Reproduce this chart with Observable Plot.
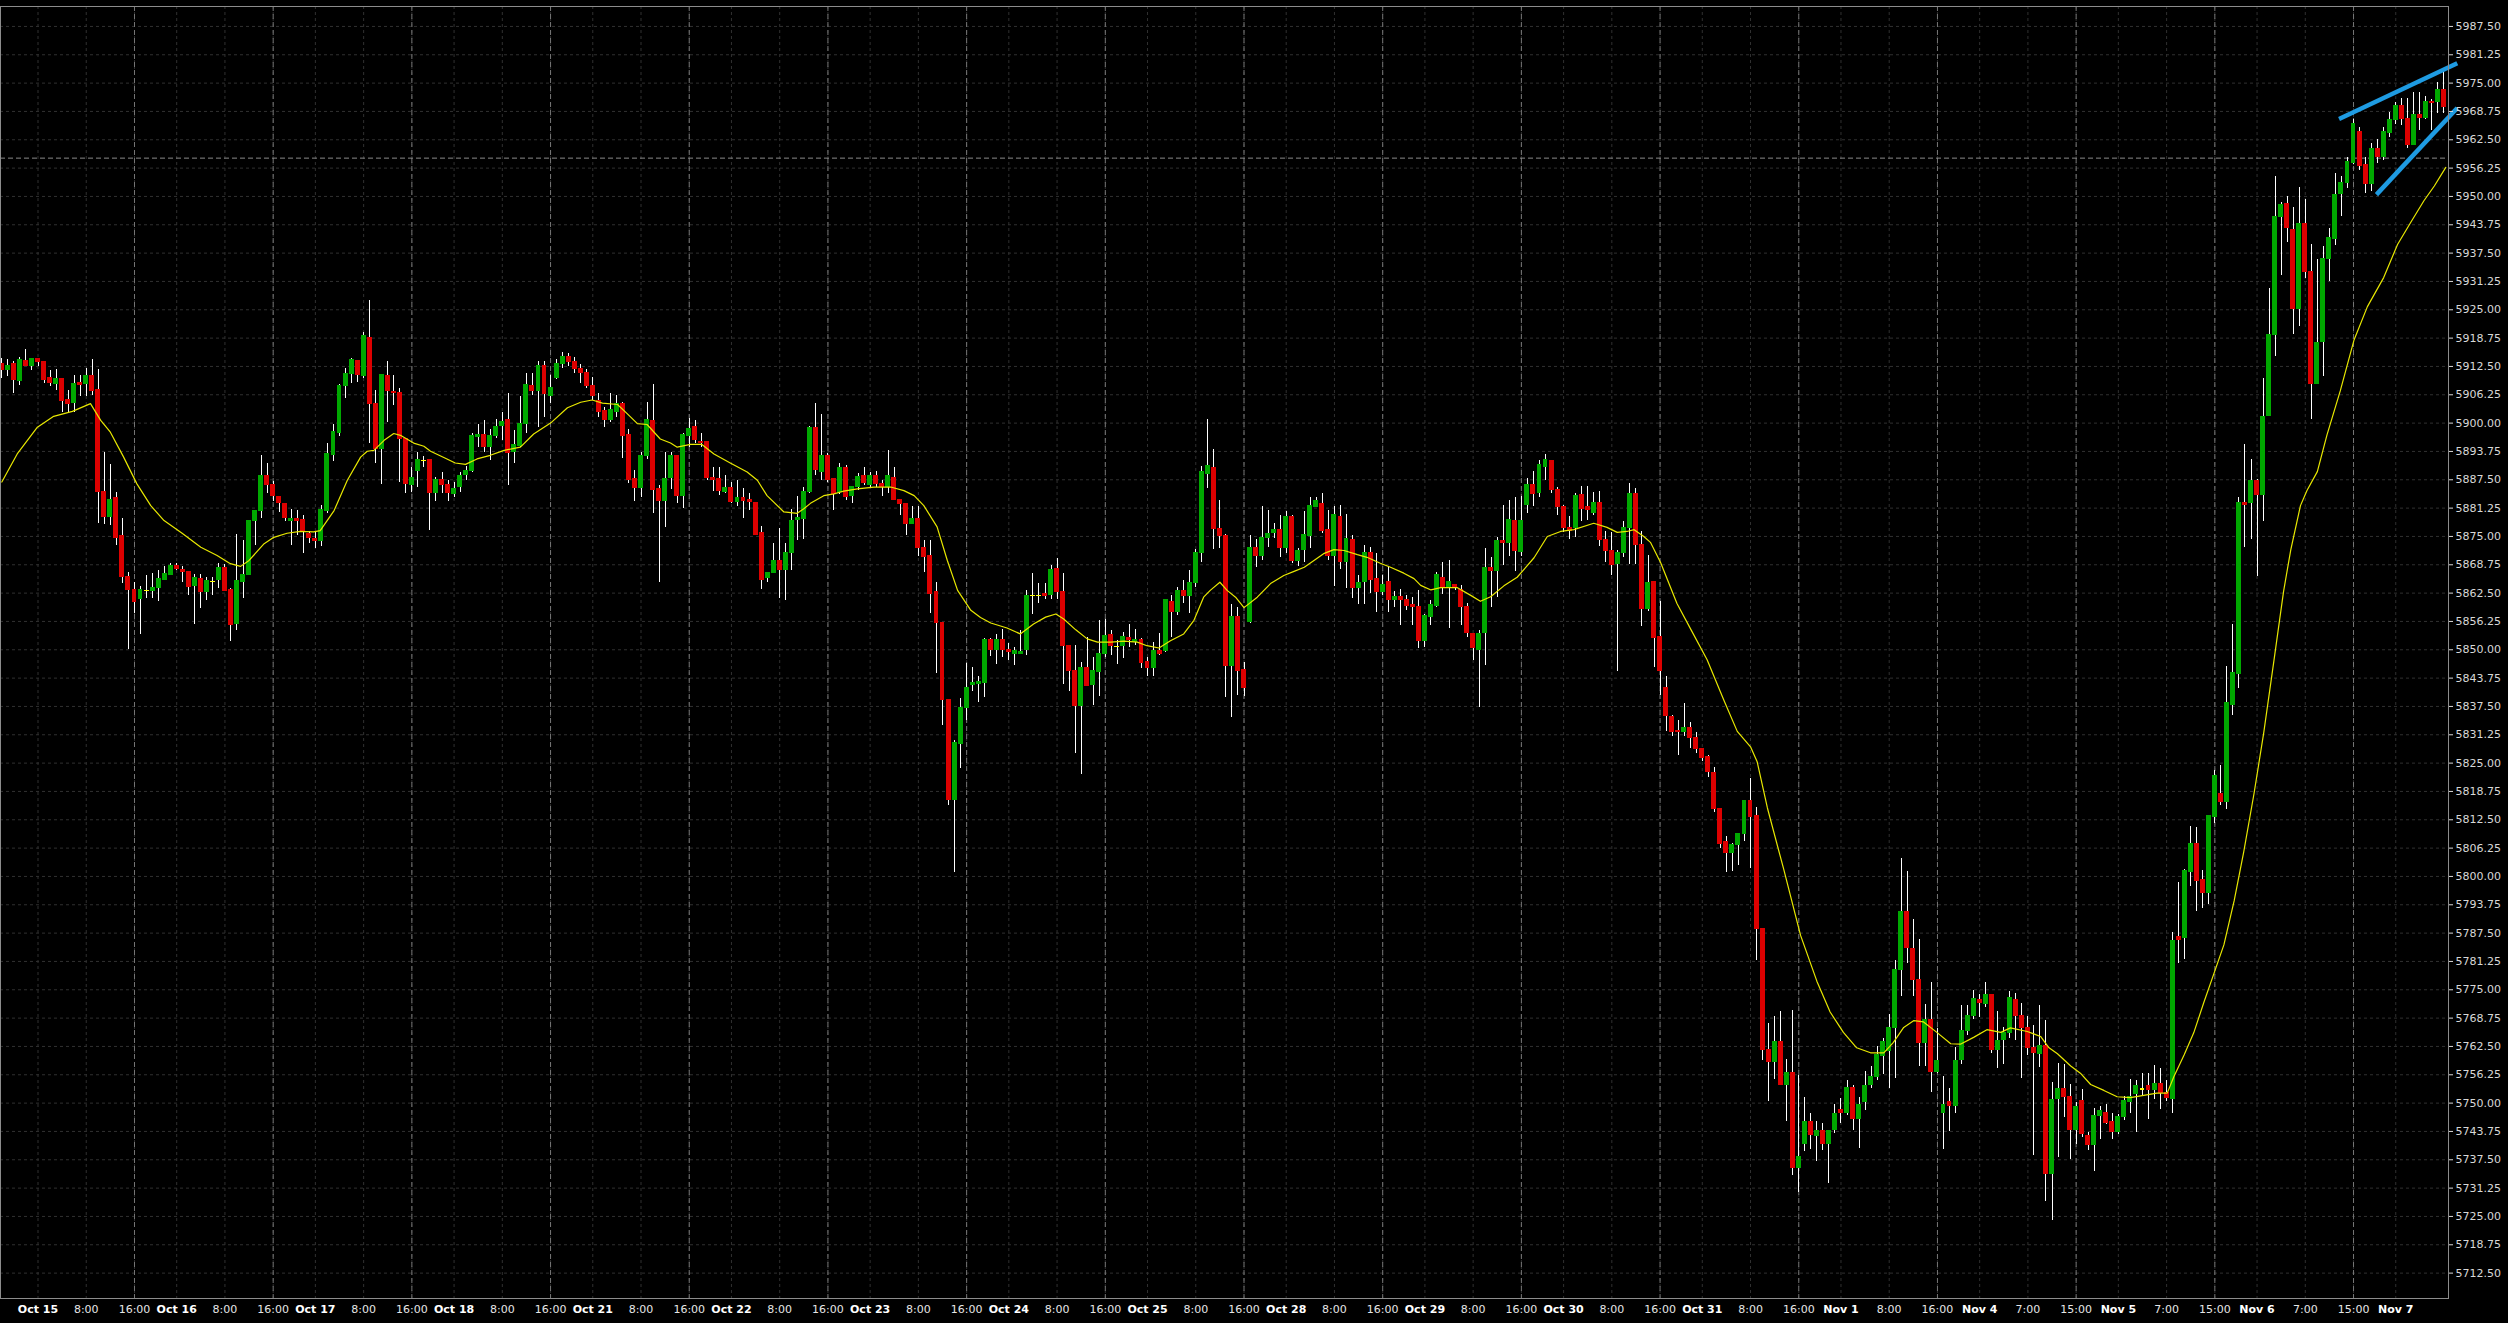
<!DOCTYPE html>
<html><head><meta charset="utf-8">
<script src="https://cdn.jsdelivr.net/npm/d3@7"></script>
<script src="https://cdn.jsdelivr.net/npm/@observablehq/plot@0.6"></script>
<style>html,body{margin:0;padding:0;background:#000;overflow:hidden}</style>
</head><body><div id="chart"></div>
<script>
// ---- hourly OHLC values (bar index order) ----
const opens = [5912.9,5911.8,5912.9,5909.3,5913.6,5912.6,5914.0,5913.5,5909.9,5908.6,
5909.6,5905.0,5904.4,5908.7,5908.6,5910.3,5907.2,5884.7,5879.3,5883.4,
5875.0,5866.0,5863.1,5861.2,5863.0,5863.1,5863.6,5865.5,5866.6,5868.4,
5867.6,5867.1,5864.2,5865.5,5862.7,5864.9,5865.5,5867.9,5863.1,5855.7,
5865.1,5866.5,5878.4,5880.7,5888.2,5886.3,5883.6,5882.1,5878.4,5878.7,
5878.6,5875.4,5874.3,5874.0,5880.7,5893.0,5897.9,5908.3,5910.9,5913.6,
5910.5,5918.8,5904.1,5894.3,5910.3,5906.8,5906.7,5896.5,5886.5,5889.4,
5891.6,5891.8,5884.6,5887.5,5886.4,5884.4,5885.9,5888.5,5889.4,5896.9,
5897.3,5894.7,5897.1,5899.3,5900.6,5893.6,5895.1,5899.8,5908.2,5907.1,
5912.5,5906.1,5910.0,5913.0,5914.5,5913.5,5912.0,5911.0,5908.1,5904.9,
5902.6,5900.8,5902.6,5904.1,5897.3,5887.6,5885.7,5892.9,5900.4,5885.4,
5882.8,5887.9,5892.6,5883.9,5897.3,5899.0,5895.9,5895.8,5887.9,5887.6,
5884.8,5885.7,5882.6,5883.4,5883.0,5882.3,5875.8,5865.8,5866.9,5869.5,
5867.7,5871.5,5878.7,5878.8,5884.8,5898.9,5889.3,5892.6,5887.7,5884.8,
5890.1,5884.0,5886.0,5888.2,5886.5,5888.2,5886.6,5886.0,5887.9,5882.9,
5882.1,5877.8,5878.9,5872.3,5870.6,5862.6,5855.9,5838.8,5816.9,5829.3,
5837.2,5842.2,5842.4,5842.8,5852.1,5850.0,5852.1,5849.8,5849.2,5849.2,
5850.0,5861.8,5861.8,5862.2,5862.1,5867.7,5862.7,5850.7,5845.2,5837.6,
5845.9,5842.3,5845.2,5849.1,5853.3,5850.6,5850.8,5852.6,5851.7,5852.2,
5847.3,5846.0,5849.6,5849.7,5860.4,5858.3,5862.9,5861.8,5864.7,5871.5,
5888.9,5890.1,5876.5,5875.1,5846.5,5857.1,5845.4,5856.1,5872.3,5870.7,
5874.6,5875.9,5876.3,5872.4,5879.3,5869.6,5872.1,5875.2,5881.6,5882.2,
5876.3,5870.7,5879.3,5869.5,5874.1,5863.6,5864.9,5871.2,5865.5,5862.9,
5864.8,5861.0,5861.5,5860.9,5859.8,5859.3,5851.9,5857.3,5859.8,5865.8,
5864.0,5864.2,5863.2,5859.4,5853.5,5850.1,5853.7,5868.0,5867.5,5873.9,
5873.7,5878.3,5871.6,5881.9,5886.3,5884.6,5890.3,5891.7,5885.3,5881.5,
5876.8,5876.8,5884.0,5881.5,5880.2,5882.3,5874.2,5871.8,5868.9,5871.4,
5876.8,5884.4,5873.1,5859.0,5864.9,5852.8,5841.6,5835.2,5832.1,5831.8,
5832.8,5830.6,5828.1,5826.2,5822.8,5814.9,5807.5,5805.2,5806.9,5809.3,
5816.5,5813.4,5788.4,5761.7,5759.2,5763.4,5754.1,5756.6,5735.8,5741.1,
5745.9,5742.9,5743.7,5741.1,5744.2,5748.4,5747.8,5753.2,5746.5,5750.2,
5754.0,5755.7,5760.5,5761.6,5766.7,5779.4,5792.1,5783.9,5777.2,5763.4,
5768.4,5756.8,5747.9,5750.1,5749.5,5759.6,5765.9,5769.2,5772.7,5772.0,
5773.8,5761.7,5763.9,5765.5,5772.8,5769.2,5766.6,5762.2,5760.9,5762.6,
5734.4,5750.9,5753.0,5751.3,5744.1,5750.4,5742.8,5740.9,5747.2,5747.7,
5745.7,5743.6,5746.9,5750.4,5752.0,5753.0,5753.7,5753.0,5754.1,5752.2,
5750.9,5786.5,5786.5,5801.1,5807.2,5799.1,5796.5,5813.2,5818.1,5816.4,
5837.8,5844.8,5882.4,5882.4,5887.1,5884.1,5901.7,5919.5,5945.5,5948.3,
5942.6,5925.2,5943.8,5933.3,5908.7,5917.9,5936.2,5940.7,5950.5,5953.0,
5957.5,5964.1,5957.0,5952.9,5960.5,5958.7,5964.1,5966.8,5969.8,5967.1,
5961.5,5967.9,5967.3,5970.9,5970.8,5973.4];
const highs = [5914.2,5914.0,5913.5,5914.4,5916.2,5914.3,5914.2,5913.5,5911.5,5911.8,
5909.6,5907.1,5910.4,5910.4,5912.0,5914.0,5911.8,5893.6,5890.9,5884.7,
5878.9,5867.1,5864.9,5864.0,5866.4,5866.8,5867.5,5868.4,5869.0,5869.1,
5868.4,5867.1,5866.5,5866.6,5866.0,5865.9,5869.0,5868.8,5863.5,5875.4,
5874.0,5878.4,5880.7,5892.9,5891.0,5887.1,5883.8,5882.1,5880.9,5880.7,
5879.6,5876.2,5876.2,5881.8,5895.4,5899.7,5908.5,5912.1,5914.3,5913.6,
5919.9,5927.1,5907.2,5910.5,5913.7,5910.4,5907.7,5896.7,5890.3,5893.6,
5892.7,5891.8,5888.1,5889.2,5887.4,5887.0,5889.2,5890.4,5897.8,5899.7,
5900.6,5898.6,5900.9,5902.4,5906.5,5898.4,5905.9,5911.0,5911.0,5913.5,
5913.5,5910.5,5914.0,5915.5,5915.3,5914.5,5913.0,5911.8,5910.0,5906.5,
5903.5,5906.5,5906.1,5904.6,5898.7,5889.6,5893.6,5904.6,5908.5,5886.2,
5893.6,5893.6,5892.9,5897.6,5901.0,5900.6,5897.6,5895.8,5890.3,5890.1,
5888.4,5887.0,5887.4,5885.5,5884.4,5882.3,5877.1,5866.9,5873.4,5876.8,
5873.4,5880.9,5883.8,5885.7,5899.3,5904.4,5901.8,5893.2,5887.7,5891.0,
5890.7,5885.9,5888.8,5890.1,5889.2,5889.4,5887.3,5894.0,5890.1,5882.9,
5882.2,5881.5,5881.5,5874.1,5874.1,5864.9,5855.9,5838.8,5829.9,5839.2,
5846.9,5846.2,5844.0,5852.4,5852.4,5853.4,5854.4,5851.3,5850.6,5854.3,
5863.1,5866.9,5864.6,5864.7,5868.6,5870.1,5866.8,5850.9,5850.9,5847.3,
5852.8,5848.2,5856.5,5856.6,5854.3,5852.1,5853.9,5855.5,5854.4,5852.4,
5848.4,5851.7,5853.5,5861.0,5862.0,5863.8,5865.3,5867.5,5872.1,5890.4,
5900.8,5894.1,5882.9,5875.4,5860.0,5859.4,5847.3,5875.2,5874.3,5881.5,
5880.7,5877.8,5879.6,5880.4,5879.6,5872.3,5880.4,5883.5,5883.5,5884.4,
5880.7,5881.6,5881.8,5879.8,5875.2,5866.4,5873.0,5872.6,5871.2,5866.4,
5868.4,5862.9,5863.3,5862.0,5861.6,5863.1,5857.8,5860.9,5867.1,5869.3,
5869.7,5864.4,5864.2,5860.1,5853.7,5854.3,5872.3,5870.4,5874.8,5881.9,
5882.9,5883.5,5883.8,5887.7,5889.4,5891.7,5893.1,5891.7,5885.7,5881.8,
5879.3,5884.4,5886.0,5886.0,5884.6,5884.9,5876.1,5875.9,5872.0,5878.2,
5886.6,5885.5,5876.1,5870.8,5864.9,5860.7,5844.1,5835.4,5834.3,5838.2,
5833.9,5831.8,5828.3,5826.6,5824.1,5814.9,5808.9,5807.3,5809.5,5816.8,
5821.7,5815.3,5788.4,5767.5,5769.0,5770.1,5759.6,5770.4,5756.0,5751.3,
5747.6,5745.9,5745.6,5744.0,5749.8,5751.0,5754.9,5753.8,5751.2,5756.9,
5758.0,5762.4,5764.3,5769.6,5781.4,5803.9,5801.1,5790.6,5786.2,5771.8,
5776.6,5766.5,5755.8,5753.2,5762.2,5771.5,5771.6,5774.9,5774.0,5776.6,
5774.0,5770.1,5766.6,5774.7,5774.1,5771.9,5769.0,5767.1,5771.5,5768.2,
5754.5,5758.7,5758.5,5754.2,5750.1,5753.0,5743.6,5748.8,5749.3,5749.8,
5747.7,5747.4,5751.4,5755.3,5755.0,5756.6,5756.6,5758.2,5757.7,5755.0,
5787.6,5798.6,5801.6,5811.1,5810.8,5801.4,5813.5,5823.4,5824.5,5846.4,
5855.6,5883.6,5895.2,5892.0,5887.6,5909.8,5929.7,5954.5,5948.6,5949.9,
5947.5,5951.9,5949.4,5939.4,5936.2,5938.9,5943.0,5955.1,5954.5,5958.7,
5967.0,5965.1,5958.5,5961.6,5962.5,5965.1,5968.6,5970.7,5971.7,5971.5,
5972.9,5972.9,5972.1,5971.3,5975.2,5977.4];
const lows = [5909.8,5910.3,5906.5,5908.3,5912.4,5911.5,5912.5,5908.8,5908.1,5907.2,
5902.4,5902.4,5902.3,5905.9,5905.9,5906.1,5877.8,5877.6,5877.4,5872.9,
5864.6,5850.0,5858.1,5853.3,5861.3,5861.3,5860.7,5865.3,5866.3,5867.5,
5864.9,5862.0,5855.5,5859.2,5860.9,5862.0,5863.5,5863.0,5851.8,5854.3,
5861.4,5866.4,5873.0,5878.9,5884.4,5882.6,5880.2,5878.2,5873.0,5875.2,
5871.2,5873.4,5872.3,5872.8,5880.0,5891.5,5897.1,5905.4,5908.7,5909.0,
5909.9,5895.4,5891.2,5886.4,5900.2,5903.9,5887.0,5884.4,5884.6,5885.9,
5890.3,5876.3,5882.6,5884.4,5882.6,5883.5,5884.8,5887.4,5889.2,5894.7,
5893.6,5891.8,5896.5,5896.2,5886.2,5891.2,5894.7,5897.6,5906.0,5899.1,
5901.3,5904.3,5909.6,5912.0,5912.5,5911.0,5908.8,5907.6,5905.0,5901.3,
5899.1,5900.2,5901.3,5892.1,5886.6,5882.6,5883.7,5892.0,5880.0,5864.9,
5876.9,5885.4,5882.2,5881.2,5894.7,5895.4,5894.7,5887.3,5884.9,5884.0,
5884.4,5882.2,5881.5,5878.9,5880.7,5875.4,5863.3,5864.8,5866.8,5861.4,
5860.9,5867.5,5874.1,5874.3,5884.4,5888.4,5887.4,5886.8,5880.7,5884.2,
5882.9,5882.3,5885.1,5886.2,5885.9,5885.7,5883.9,5884.4,5882.9,5879.6,
5875.2,5877.6,5870.6,5867.1,5857.9,5844.7,5833.4,5815.7,5800.9,5823.9,
5834.4,5840.7,5838.4,5839.4,5848.5,5846.7,5848.4,5847.6,5846.5,5849.1,
5848.7,5857.8,5860.1,5861.2,5861.1,5861.2,5842.3,5840.7,5827.1,5822.4,
5841.8,5837.6,5839.6,5848.4,5848.7,5846.8,5848.0,5850.4,5850.9,5845.9,
5844.1,5844.1,5848.7,5849.5,5852.8,5857.6,5860.1,5857.9,5863.8,5869.3,
5885.6,5872.1,5872.3,5839.4,5835.0,5839.9,5839.6,5855.9,5868.2,5869.6,
5872.6,5874.5,5870.3,5871.2,5869.1,5868.4,5869.3,5872.3,5881.5,5875.7,
5869.7,5864.0,5867.6,5863.5,5861.4,5859.9,5859.9,5862.5,5858.3,5862.0,
5858.3,5859.4,5855.4,5858.7,5855.4,5850.2,5850.4,5855.4,5859.4,5862.3,
5854.6,5863.1,5855.4,5852.6,5847.6,5837.3,5846.5,5859.3,5861.5,5868.6,
5870.6,5867.2,5870.5,5880.1,5881.5,5883.5,5887.4,5884.4,5879.6,5875.9,
5874.4,5874.8,5878.2,5878.5,5879.6,5872.8,5869.2,5866.3,5845.3,5870.3,
5868.8,5868.9,5855.1,5858.5,5846.1,5839.9,5832.0,5830.9,5826.6,5830.9,
5828.3,5827.2,5825.3,5821.9,5814.2,5806.1,5800.8,5801.1,5802.4,5807.8,
5801.8,5781.4,5759.4,5750.4,5755.1,5753.8,5745.9,5734.1,5730.2,5739.4,
5739.7,5737.1,5739.5,5732.2,5743.3,5745.6,5747.3,5743.9,5740.0,5748.4,
5753.2,5754.9,5756.3,5753.2,5755.5,5773.5,5780.8,5773.5,5758.1,5758.0,
5752.3,5756.6,5739.7,5743.7,5747.8,5758.6,5765.0,5768.4,5768.8,5771.2,
5760.9,5757.7,5758.5,5764.3,5763.9,5755.5,5760.6,5738.5,5757.9,5728.3,
5724.2,5738.0,5746.9,5737.5,5740.9,5742.5,5739.6,5735.0,5742.0,5745.3,
5742.0,5743.1,5746.1,5747.7,5743.6,5751.4,5746.4,5750.9,5748.5,5750.4,
5747.7,5780.9,5781.6,5797.8,5792.2,5793.0,5793.8,5811.6,5815.6,5814.8,
5835.4,5841.5,5872.6,5874.4,5866.1,5878.3,5901.7,5914.7,5932.6,5939.9,
5919.5,5921.3,5932.0,5900.9,5908.7,5910.3,5931.3,5939.1,5945.6,5951.8,
5957.1,5955.7,5950.6,5951.1,5957.2,5957.9,5963.1,5965.9,5965.7,5960.5,
5961.2,5964.6,5967.0,5964.6,5968.4,5968.2];
const closes = [5911.8,5912.5,5909.6,5913.8,5912.7,5914.0,5913.6,5909.6,5908.8,5909.6,
5905.0,5904.3,5908.5,5908.4,5910.3,5907.1,5884.8,5879.3,5883.0,5874.8,
5866.0,5863.2,5860.5,5863.1,5863.0,5863.5,5865.5,5866.6,5868.4,5867.8,
5867.1,5864.0,5865.8,5862.9,5865.1,5864.9,5867.9,5863.1,5855.5,5865.1,
5866.5,5878.4,5880.6,5888.2,5886.3,5883.9,5882.4,5879.1,5878.7,5878.4,
5876.2,5874.7,5874.0,5880.7,5893.1,5897.9,5908.2,5910.9,5913.8,5910.7,
5919.1,5904.3,5894.3,5910.5,5907.1,5906.6,5896.5,5886.6,5887.8,5891.8,
5891.6,5884.6,5887.5,5886.3,5884.6,5885.5,5888.3,5889.3,5897.1,5897.3,
5894.7,5897.1,5899.1,5900.3,5893.4,5895.1,5899.7,5908.3,5907.1,5912.5,
5906.5,5907.6,5913.0,5914.5,5913.5,5912.0,5911.0,5908.3,5906.1,5902.6,
5900.7,5902.8,5904.1,5897.1,5887.5,5885.7,5892.6,5900.6,5885.4,5882.8,
5887.7,5892.6,5883.9,5897.3,5898.6,5896.4,5895.6,5887.9,5887.6,5885.1,
5885.7,5882.6,5883.4,5882.8,5882.6,5875.4,5865.5,5866.9,5869.5,5867.7,
5871.3,5878.3,5879.0,5884.8,5898.9,5889.6,5892.6,5887.4,5884.4,5890.1,
5883.7,5885.9,5888.0,5886.8,5888.2,5886.6,5886.0,5888.2,5883.1,5882.1,
5877.8,5878.9,5872.4,5870.6,5862.3,5855.9,5838.9,5816.9,5829.4,5837.2,
5841.6,5842.6,5842.8,5852.2,5850.0,5852.1,5850.0,5849.5,5849.6,5849.5,
5861.8,5861.8,5861.8,5861.8,5867.5,5862.7,5850.9,5845.3,5837.6,5845.9,
5842.1,5845.2,5849.1,5852.9,5850.8,5850.6,5852.8,5852.1,5852.2,5847.1,
5846.0,5849.6,5849.2,5860.9,5858.3,5862.9,5861.8,5864.7,5871.3,5889.2,
5890.4,5876.7,5875.1,5846.5,5857.1,5845.3,5841.6,5872.3,5870.7,5874.7,
5875.4,5876.3,5872.6,5879.3,5869.7,5871.7,5875.2,5881.6,5882.7,5876.3,
5870.7,5879.6,5869.5,5874.3,5863.6,5864.7,5871.4,5865.5,5862.9,5864.2,
5861.1,5861.5,5861.0,5859.8,5859.4,5851.9,5857.3,5859.8,5866.4,5864.0,
5864.8,5863.7,5859.4,5853.7,5850.4,5853.5,5868.0,5867.5,5873.9,5873.5,
5878.5,5871.8,5878.3,5886.3,5884.4,5890.8,5891.9,5885.3,5881.5,5877.0,
5876.2,5883.8,5881.0,5880.8,5882.3,5874.2,5871.8,5868.7,5871.2,5876.8,
5884.4,5873.1,5859.0,5864.7,5852.6,5845.3,5835.4,5832.0,5831.8,5832.8,
5830.6,5828.1,5826.2,5823.0,5814.9,5807.3,5805.2,5806.9,5809.3,5816.5,
5813.2,5788.4,5761.7,5759.2,5763.4,5754.0,5756.6,5735.8,5738.0,5745.9,
5743.1,5743.7,5741.1,5743.7,5747.6,5747.9,5753.2,5746.5,5749.6,5753.8,
5755.7,5760.5,5763.4,5766.5,5779.4,5792.1,5784.2,5777.2,5763.4,5768.4,
5756.8,5759.2,5749.6,5749.5,5759.2,5765.9,5769.2,5772.9,5772.1,5773.8,
5761.7,5763.6,5765.5,5773.1,5769.2,5766.6,5762.2,5761.1,5762.6,5734.4,
5750.6,5753.0,5751.3,5744.1,5749.0,5743.3,5740.9,5747.2,5748.2,5745.7,
5743.6,5746.9,5750.4,5751.4,5753.7,5753.0,5753.0,5754.1,5752.2,5751.2,
5785.7,5786.0,5801.1,5807.2,5799.1,5796.5,5813.2,5822.1,5816.4,5838.3,
5844.8,5882.4,5882.0,5887.1,5884.1,5901.4,5919.5,5945.5,5948.0,5943.0,
5925.2,5943.8,5933.3,5908.7,5917.6,5936.2,5940.7,5950.2,5953.0,5957.5,
5965.9,5956.8,5952.9,5960.4,5958.7,5964.1,5966.8,5969.8,5967.1,5961.5,
5967.9,5967.3,5970.9,5970.7,5973.4,5969.7];

// ---- moving average, bar position / value ----
const maIndex = [0,2.55,5.9,8.6,11.7,14.7,16.4,18.0,20.2,22.4,24.7,26.9,29.9,33.0,35.7,37.9,39.6,41.0,43.5,45.1,
47.3,49.5,51.7,52.8,55.1,57.3,59.5,60.6,61.7,63.4,65.0,66.1,68.3,70.0,71.1,73.3,75.2,76.9,78.8,81.0,
83.3,86.0,88.2,91.0,93.8,96.0,97.9,99.6,102.1,103.7,105.4,107.0,109.2,110.9,112.0,114.2,116.1,118.1,120.8,123.6,
125.3,126.9,129.7,131.9,133.0,134.1,136.3,138.0,139.6,141.9,144.6,147.4,149.6,151.3,152.9,155.1,156.8,158.5,160.7,162.3,
164.0,166.7,168.9,171.1,173.1,174.8,176.1,178.1,180.0,181.7,183.9,186.1,188.3,189.9,191.9,193.8,196.0,197.7,199.3,200.4,
202.0,203.2,204.6,206.0,208.2,210.4,212.6,214.3,216.0,217.6,219.2,220.9,222.6,224.8,226.4,228.6,230.3,232.5,234.2,235.3,
237.0,238.6,241.4,243.6,245.2,246.9,249.1,251.3,254.1,256.3,258.5,260.7,264.0,266.2,267.9,269.5,270.7,272.3,273.4,275.1,
277.8,280.1,282.8,285.6,287.8,290.0,291.1,292.8,295.5,298.3,301.0,303.2,305.4,307.6,309.9,312.1,313.7,315.4,317.1,318.7,
320.9,323.2,324.8,327.0,329.2,331.5,333.1,335.9,338.1,339.5,340.9,343.1,344.7,346.4,348.6,350.8,353.0,355.2,357.4,359.1,
360.2,361.9,363.5,365.2,366.8,368.5,370.2,371.8,373.5,375.1,376.8,378.4,379.6,381.2,382.3,384.0,385.6,387.8,390.1,392.3,
395.0,397.3,399.5,401.7,403.4,405.3];
const maValue = [5887.0,5893.2,5899.1,5901.5,5902.6,5904.3,5900.6,5898.0,5892.5,5886.6,5881.8,5878.5,5875.7,5872.6,5870.8,5869.0,5868.4,5869.7,5873.4,5874.8,
5875.7,5876.1,5876.0,5876.3,5880.7,5887.4,5892.5,5893.8,5894.0,5896.2,5897.7,5897.3,5895.6,5894.9,5893.8,5892.4,5891.2,5890.9,5892.1,5892.9,
5894.0,5894.7,5897.6,5900.0,5903.4,5904.6,5905.1,5904.4,5904.1,5902.1,5899.9,5899.7,5896.5,5895.6,5894.7,5895.3,5895.3,5893.2,5891.2,5889.2,
5887.4,5884.0,5880.4,5880.1,5881.1,5882.3,5884.0,5884.4,5885.0,5885.5,5885.9,5885.9,5885.1,5884.0,5881.8,5877.1,5869.7,5863.1,5858.7,5857.1,
5855.9,5854.8,5853.5,5855.7,5857.2,5857.9,5856.8,5854.4,5852.4,5851.7,5851.7,5851.9,5851.7,5850.9,5850.4,5852.0,5853.5,5856.5,5861.6,5863.1,
5864.9,5863.1,5861.6,5859.3,5861.6,5864.6,5866.4,5867.3,5868.2,5869.7,5871.2,5872.1,5871.9,5871.0,5870.4,5869.1,5868.2,5866.9,5865.7,5864.2,
5863.2,5863.7,5863.7,5862.0,5860.7,5861.7,5864.1,5866.0,5870.3,5875.0,5876.1,5876.5,5877.9,5877.0,5875.9,5876.1,5876.5,5875.0,5873.7,5869.2,
5860.2,5854.5,5847.8,5838.8,5832.0,5828.6,5825.3,5815.1,5801.6,5787.0,5776.9,5770.1,5765.6,5762.2,5761.1,5761.1,5763.4,5766.7,5768.2,5767.9,
5765.6,5763.1,5763.0,5764.5,5766.2,5765.6,5766.6,5765.8,5764.7,5762.2,5760.9,5758.2,5756.6,5754.1,5752.8,5751.4,5751.2,5751.7,5752.2,5752.2,
5755.8,5760.6,5765.5,5772.3,5778.4,5784.9,5794.6,5805.5,5818.3,5831.6,5847.6,5862.9,5872.1,5881.8,5885.2,5889.3,5897.4,5907.1,5918.4,5925.7,
5932.1,5939.4,5944.3,5949.1,5952.3,5956.4];

// ---- drawn trend lines and horizontal price line ----
const upperLineIndex = [387.6, 407.2];
const upperLinePrice = [5967.1, 5979.4];
const lowerLineIndex = [393.8, 407.2];
const lowerLinePrice = [5950.4, 5969.5];
const levelLine = [5958.45];

// ---- axis labels ----
const dayLabels = ["Oct 15","Oct 16","Oct 17","Oct 18","Oct 21","Oct 22","Oct 23","Oct 24","Oct 25",
  "Oct 28","Oct 29","Oct 30","Oct 31","Nov 1","Nov 4","Nov 5","Nov 6","Nov 7"];
const timeLabels = [["8:00","16:00"],["8:00","16:00"],["8:00","16:00"],["8:00","16:00"],["8:00","16:00"],
  ["8:00","16:00"],["8:00","16:00"],["8:00","16:00"],["8:00","16:00"],["8:00","16:00"],["8:00","16:00"],
  ["8:00","16:00"],["8:00","16:00"],["8:00","16:00"],["7:00","15:00"],["7:00","15:00"],["7:00","15:00"],[]];
const firstDayBar = 6;     // bar index of the first date label
const barsPerDay = 23;     // hourly bars per trading day
const barsPerLabel = 8;    // hours between labels
const yTicks = [5712.5,5718.75,5725,5731.25,5737.5,5743.75,5750,5756.25,5762.5,5768.75,5775,5781.25,5787.5,
  5793.75,5800,5806.25,5812.5,5818.75,5825,5831.25,5837.5,5843.75,5850,5856.25,5862.5,5868.75,5875,5881.25,
  5887.5,5893.75,5900,5906.25,5912.5,5918.75,5925,5931.25,5937.5,5943.75,5950,5956.25,5962.5,5968.75,5975,
  5981.25,5987.5];

// ---- build ----
const bars = opens.map((o, i) => ({
  i, o, h: highs[i], l: lows[i], c: closes[i],
  col: closes[i] > o ? "#00a800" : closes[i] < o ? "#dd0000" : "#ffff00"
}));
const ma = maIndex.map((x, k) => ({x, y: maValue[k]}));
const trend = [
  ...upperLineIndex.map((x, k) => ({name: "upper", x, y: upperLinePrice[k]})),
  ...lowerLineIndex.map((x, k) => ({name: "lower", x, y: lowerLinePrice[k]}))
];
const dateTicks = [], timeTicks = [], sepTicks = [];
const labelMap = new Map();
dayLabels.forEach((d, k) => {
  const b = firstDayBar + k * barsPerDay;
  dateTicks.push(b); labelMap.set(b, d);
  timeLabels[k].forEach((t, j) => {
    const tb = b + barsPerLabel * (j + 1);
    timeTicks.push(tb); labelMap.set(tb, t);
    if (j === 1) sepTicks.push(tb);
  });
});
const gridTicks = [...dateTicks, ...timeTicks];

const chart = Plot.plot({
  width: 2508, height: 1323,
  marginLeft: 0, marginRight: 60, marginTop: 6, marginBottom: 25,
  style: {background: "#000", color: "#dcdcdc", fontFamily: "'DejaVu Sans', sans-serif", fontSize: "11px"},
  x: {domain: [-0.22, bars.length - 0.25], axis: null},
  y: {domain: [5706.9, 5991.9], axis: null},
  color: {type: "identity"},
  marks: [
    Plot.gridY({ticks: yTicks, stroke: "#303030", strokeOpacity: 1, strokeDasharray: "3,3"}),
    Plot.gridX({ticks: gridTicks, stroke: "#303030", strokeOpacity: 1, strokeDasharray: "3,3"}),
    Plot.ruleX(sepTicks, {stroke: "#767676", strokeDasharray: "5,3"}),
    Plot.ruleY(levelLine, {stroke: "#8a8a8a", strokeDasharray: "5,3"}),
    Plot.ruleX(bars, {x: "i", y1: "l", y2: "h", stroke: "#ffffff", strokeWidth: 1, shapeRendering: "crispEdges"}),
    Plot.rect(bars, {x1: d => d.i - 0.41, x2: d => d.i + 0.41,
      y1: d => Math.min(d.o, d.c), y2: d => Math.max(d.o, d.c),
      fill: "col", insetTop: -0.7, insetBottom: -0.7, shapeRendering: "crispEdges"}),
    Plot.line(ma, {x: "x", y: "y", stroke: "#e8e800", strokeWidth: 1.2}),
    Plot.line(trend, {x: "x", y: "y", z: "name", stroke: "#1e9be2", strokeWidth: 4.5, strokeLinecap: "butt"}),
    Plot.frame({stroke: "#8c8c8c"}),
    Plot.axisY({anchor: "right", ticks: yTicks, tickFormat: d => d.toFixed(2), tickSize: 4, tickPadding: 3,
      color: "#d8d8d8", label: null}),
    Plot.axisX({anchor: "bottom", ticks: timeTicks, tickFormat: b => labelMap.get(b), tickSize: 0, tickPadding: 7,
      color: "#e6e6e6", label: null}),
    Plot.axisX({anchor: "bottom", ticks: dateTicks, tickFormat: b => labelMap.get(b), tickSize: 0, tickPadding: 7,
      color: "#ffffff", fontWeight: "bold", label: null})
  ]
});
document.getElementById("chart").appendChild(chart);
</script>
</body></html>
